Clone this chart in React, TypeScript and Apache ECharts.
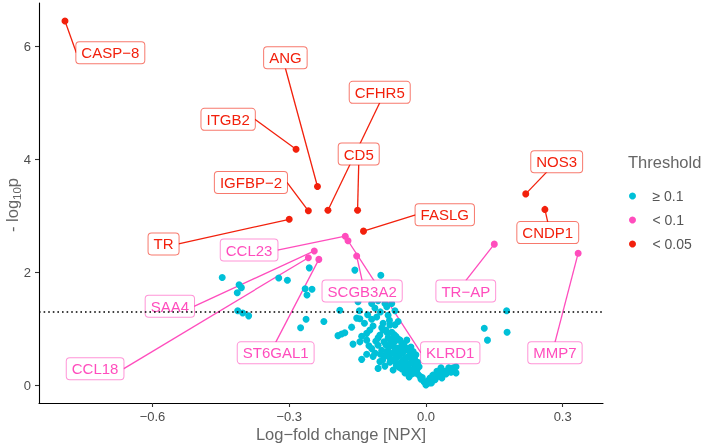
import React, { useEffect, useRef } from "react";
import * as echarts from "echarts";

// ---- data ----
const xTicks = [-0.6, -0.3, 0, 0.3];
const yTicks = [0, 2, 4, 6];
const pThreshold = 1.301; // -log10(0.05)

const legendNames = ["≥ 0.1", "< 0.1", "< 0.05"];

// proteins with p >= 0.1 : [log-fold change, -log10 p]
const notSigPoints = [
  [-0.447, 1.91], [-0.41, 1.78], [-0.405, 1.73], [-0.414, 1.64], [-0.413, 1.32], [-0.402, 1.28], [-0.389, 1.23],
  [-0.323, 1.9], [-0.304, 1.86], [-0.256, 2.08], [-0.265, 1.71], [-0.261, 1.6], [-0.25, 1.7], [-0.263, 1.17],
  [-0.275, 1.02], [-0.224, 1.13],
  [-0.189, 1.33], [-0.156, 2.04], [-0.099, 1.95], [-0.149, 1.48], [-0.119, 1.45], [-0.112, 1.37], [-0.146, 1.32],
  [-0.068, 1.32], [-0.152, 1.19], [-0.145, 1.18], [-0.119, 1.17], [-0.193, 0.88], [-0.185, 0.91], [-0.178, 0.93],
  [-0.163, 1.03], [-0.16, 0.73], [-0.145, 0.77], [-0.141, 0.87], [-0.141, 0.46], [-0.13, 0.92], [-0.123, 0.98],
  [-0.116, 1.05], [-0.061, 1.13], [-0.119, 0.65], [-0.112, 0.57], [-0.105, 0.3], [-0.105, 0.71], [-0.116, 0.51],
  [-0.101, 0.42], [-0.09, 1.45], [-0.086, 1.39], [-0.083, 1.24], [-0.108, 1.21], [-0.094, 1.1], [-0.079, 1.07],
  [-0.068, 1.07], [-0.105, 1.5], [-0.095, 1.55], [-0.075, 1.45],
  [-0.088, 0.98], [-0.075, 0.94], [-0.101, 0.89], [-0.083, 0.84], [-0.066, 0.87], [-0.057, 0.8], [-0.092, 0.77],
  [-0.075, 0.73], [-0.048, 0.71], [-0.064, 0.66], [-0.083, 0.62], [-0.046, 0.62], [-0.035, 0.59], [-0.072, 0.57],
  [-0.057, 0.54], [-0.09, 0.52], [-0.04, 0.5], [-0.066, 0.48], [-0.05, 0.45], [-0.031, 0.45], [-0.079, 0.41],
  [-0.061, 0.38], [-0.042, 0.36], [-0.024, 0.36], [-0.072, 0.27], [-0.053, 0.29], [-0.035, 0.27], [-0.02, 0.27],
  [-0.031, 0.2], [-0.013, 0.16], [-0.011, 0.11], [-0.004, 0.06], [0.0, 0.005],
  [-0.094, 0.98], [-0.105, 0.84], [-0.068, 0.78], [-0.053, 0.75], [-0.081, 0.7], [-0.033, 0.68], [-0.059, 0.61],
  [-0.022, 0.54], [-0.044, 0.41], [-0.018, 0.41], [-0.059, 0.32], [-0.026, 0.29], [-0.046, 0.22], [-0.037, 0.15],
  [-0.09, 0.34], [-0.097, 0.62], [-0.079, 0.48], [-0.029, 0.52], [-0.072, 0.84], [-0.042, 0.8],
  [-0.085, 0.93], [-0.07, 0.9], [-0.062, 0.83], [-0.078, 0.8], [-0.088, 0.72], [-0.07, 0.68], [-0.055, 0.68],
  [-0.04, 0.65], [-0.068, 0.6], [-0.05, 0.58], [-0.028, 0.6], [-0.085, 0.57], [-0.062, 0.5], [-0.045, 0.48],
  [-0.025, 0.47], [-0.07, 0.44], [-0.055, 0.4], [-0.035, 0.38], [-0.015, 0.33], [-0.065, 0.35], [-0.048, 0.32],
  [-0.04, 0.26], [-0.025, 0.22], [-0.018, 0.2], [-0.008, 0.14], [-0.1, 0.55], [-0.095, 0.45], [-0.11, 0.78],
  [-0.097, 1.02], [-0.08, 1.15], [-0.1, 1.3], [-0.128, 1.25], [-0.135, 1.1], [-0.13, 0.8], [-0.125, 0.7],
  [-0.13, 0.55],
  [0.007, 0.04], [0.015, 0.09], [0.024, 0.15], [0.033, 0.2], [0.042, 0.25], [0.05, 0.31], [0.024, 0.25],
  [0.044, 0.2], [0.057, 0.27], [0.066, 0.33], [0.066, 0.22], [0.033, 0.31], [0.009, 0.13], [0.015, 0.18],
  [0.035, 0.13], [0.02, 0.1], [0.03, 0.26], [0.055, 0.23], [0.06, 0.31], [0.004, 0.08], [0.012, 0.04],
  [0.128, 1.01], [0.135, 0.8], [0.177, 1.32], [0.178, 0.94],
];

// labelled proteins
const labelNames = ["CASP−8", "ANG", "ITGB2", "IGFBP−2", "CFHR5", "CD5", "FASLG", "NOS3", "CNDP1", "TR",
  "CCL23", "KLRD1", "SCGB3A2", "SAA4", "CCL18", "ST6GAL1", "TR−AP", "MMP7"];
const labelFC = [-0.792, -0.238, -0.285, -0.258, -0.215, -0.15, -0.137, 0.219, 0.261, -0.3,
  -0.177, -0.171, -0.152, -0.245, -0.258, -0.235, 0.15, 0.334];
const labelLogP = [6.45, 3.52, 4.18, 3.09, 3.1, 3.1, 2.73, 3.39, 3.115, 2.94,
  2.64, 2.56, 2.29, 2.38, 2.26, 2.23, 2.5, 2.34];
const labelThreshold = ["< 0.05", "< 0.05", "< 0.05", "< 0.05", "< 0.05", "< 0.05", "< 0.05", "< 0.05", "< 0.05", "< 0.05",
  "< 0.1", "< 0.1", "< 0.1", "< 0.1", "< 0.1", "< 0.1", "< 0.1", "< 0.1"];
// label box centre (data units, as placed by the repel layout) and segment attach side
const labelBoxFC = [-0.6925, -0.3084, -0.434, -0.384, -0.1014, -0.1475, 0.0413, 0.2869, 0.2673, -0.5757,
  -0.388, 0.0533, -0.14, -0.5619, -0.7259, -0.3297, 0.0874, 0.2831];
const labelBoxLogP = [5.89, 5.8, 4.71, 3.593, 5.188, 4.094, 3.02, 3.961, 2.704, 2.504,
  2.395, 0.575, 1.669, 1.398, 0.292, 0.575, 1.669, 0.575];
const labelAttach = ["l", "b", "r", "r", "b", "b", "l", "c", "t", "r", "r", "l", "t", "r", "r", "t", "t", "t"];

const COLORS: Record<string, string> = { "≥ 0.1": "#00C0D8", "< 0.1": "#FF4DBD", "< 0.05": "#F2200C" };
const BORDERS: Record<string, string> = { "< 0.1": "rgba(255,77,189,0.6)", "< 0.05": "rgba(242,32,12,0.6)" };
const FONT = "'Liberation Sans', Arial, Helvetica, sans-serif";

let measureCtx: CanvasRenderingContext2D | null = null;
function textWidth(t: string, size: number) {
  if (!measureCtx) measureCtx = document.createElement("canvas").getContext("2d");
  if (!measureCtx) return t.length * size * 0.6;
  measureCtx.font = `${size}px ${FONT}`;
  return measureCtx.measureText(t).width;
}

export default function App() {
  const ref = useRef<HTMLDivElement>(null);
  useEffect(() => {
    if (!ref.current) return;
    const chart = echarts.init(ref.current, null, { renderer: "svg" });
    const labelData = labelNames.map((n, i) => [labelFC[i], labelLogP[i], labelBoxFC[i], labelBoxLogP[i], i]);
    const LABEL_FS = 15;
    const BOX_H = 21;

    const seriesPoints = (name: string) =>
      labelNames.map((n, i) => (labelThreshold[i] === name ? [labelFC[i], labelLogP[i]] : null)).filter(Boolean);

    const fmtX = (v: number) => (v < 0 ? "−" : "") + Math.abs(v).toFixed(1);

    chart.setOption({
      animation: false,
      textStyle: { fontFamily: FONT },
      grid: { left: 39, right: 102, top: 3, bottom: 43, containLabel: false },
      xAxis: {
        type: "value",
        min: -0.849,
        max: 0.3885,
        axisLine: { show: true, onZero: false, lineStyle: { color: "#000", width: 1.1 } },
        axisTick: { show: true, length: 4, customValues: xTicks, lineStyle: { color: "#333", width: 1.1 } },
        axisLabel: { customValues: xTicks, formatter: fmtX, fontSize: 13, color: "#4D4D4D", margin: 7 },
        splitLine: { show: false },
      },
      yAxis: {
        type: "value",
        min: -0.313,
        max: 6.77,
        axisLine: { show: true, onZero: false, lineStyle: { color: "#000", width: 1.1 } },
        axisTick: { show: true, length: 4, customValues: yTicks, lineStyle: { color: "#333", width: 1.1 } },
        axisLabel: { customValues: yTicks, fontSize: 13, color: "#4D4D4D", margin: 8 },
        splitLine: { show: false },
      },
      legend: {
        data: legendNames,
        orient: "vertical",
        left: 624,
        top: 184,
        itemWidth: 30,
        itemHeight: 7,
        itemGap: 10,
        selectedMode: false,
        textStyle: { fontSize: 14, color: "#555", lineHeight: 14, fontFamily: FONT },
      },
      graphic: [
        {
          type: "text",
          x: 628,
          y: 162,
          style: { text: "Threshold", fontSize: 16.5, fill: "#666", fontFamily: FONT, align: "left", verticalAlign: "middle" },
        },
        {
          type: "text",
          x: 341,
          y: 433.5,
          style: { text: "Log−fold change [NPX]", fontSize: 16.5, fill: "#666", fontFamily: FONT, align: "center", verticalAlign: "middle" },
        },
        {
          type: "text",
          x: 12,
          y: 205,
          rotation: Math.PI / 2,
          style: {
            text: "{a|- log}{s|10}{a|p}",
            align: "center",
            verticalAlign: "middle",
            rich: {
              a: { fontSize: 16.5, fill: "#666", fontFamily: FONT, lineHeight: 22 },
              s: { fontSize: 11.5, fill: "#666", fontFamily: FONT, lineHeight: 12, verticalAlign: "bottom" },
            },
          },
        },
      ],
      series: [
        {
          type: "custom",
          name: "segments",
          z: 1,
          silent: true,
          data: labelData,
          encode: { x: 0, y: 1 },
          renderItem: (params: any, api: any) => {
            const i = params.dataIndex;
            const p = api.coord([api.value(0), api.value(1)]);
            const c = api.coord([api.value(2), api.value(3)]);
            const w = textWidth(labelNames[i], LABEL_FS) + 10;
            let e = c;
            const a = labelAttach[i];
            if (a === "l") e = [c[0] - w / 2, c[1]];
            else if (a === "r") e = [c[0] + w / 2, c[1]];
            else if (a === "t") e = [c[0], c[1] - BOX_H / 2];
            else if (a === "b") e = [c[0], c[1] + BOX_H / 2];
            return {
              type: "line",
              shape: { x1: p[0], y1: p[1], x2: e[0], y2: e[1] },
              style: { stroke: COLORS[labelThreshold[i]], lineWidth: 1.3 },
            };
          },
        },
        {
          type: "scatter",
          name: "≥ 0.1",
          z: 2,
          symbolSize: 7,
          data: notSigPoints,
          itemStyle: { color: COLORS["≥ 0.1"], opacity: 1 },
          markLine: {
            silent: true,
            symbol: "none",
            label: { show: false },
            lineStyle: { color: "#000", width: 1.6, type: [1.6, 3], opacity: 1 },
            data: [{ yAxis: pThreshold }],
          },
        },
        {
          type: "scatter",
          name: "< 0.1",
          z: 2,
          symbolSize: 7,
          data: seriesPoints("< 0.1"),
          itemStyle: { color: COLORS["< 0.1"], opacity: 1 },
        },
        {
          type: "scatter",
          name: "< 0.05",
          z: 2,
          symbolSize: 7,
          data: seriesPoints("< 0.05"),
          itemStyle: { color: COLORS["< 0.05"], opacity: 1 },
        },
        {
          type: "custom",
          name: "labels",
          z: 3,
          silent: true,
          data: labelData,
          encode: { x: 2, y: 3 },
          renderItem: (params: any, api: any) => {
            const i = params.dataIndex;
            const c = api.coord([api.value(2), api.value(3)]);
            const th = labelThreshold[i];
            return {
              type: "text",
              x: c[0],
              y: c[1],
              style: {
                text: labelNames[i],
                fill: COLORS[th],
                fontSize: LABEL_FS,
                fontFamily: FONT,
                lineHeight: 15,
                align: "center",
                verticalAlign: "middle",
                backgroundColor: "#fff",
                borderColor: BORDERS[th],
                borderWidth: 1,
                borderRadius: 3,
                padding: [3, 5, 3, 5],
              },
            };
          },
        },
      ],
    });
    return () => chart.dispose();
  }, []);
  return <div ref={ref} style={{ position: "fixed", left: 0, top: 0, width: 705, height: 446 }} />;
}
